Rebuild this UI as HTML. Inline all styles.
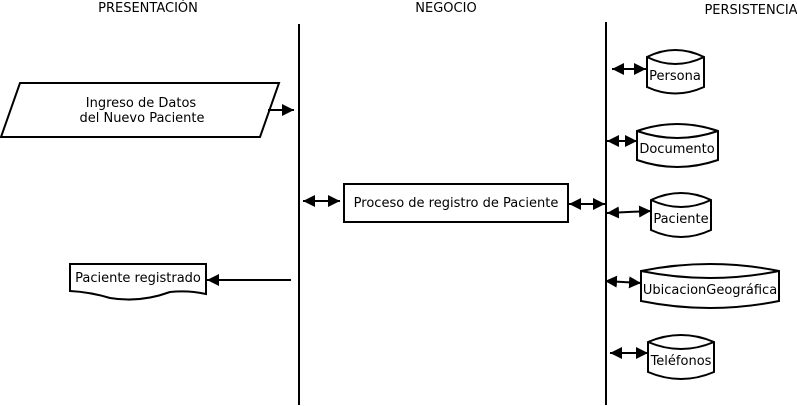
<!DOCTYPE html>
<html><head><meta charset="utf-8"><style>body{margin:0;background:#fff}svg{display:block}text{font-family:"DejaVu Sans","Liberation Sans",sans-serif;font-size:13px;fill:#000}</style></head><body>
<svg width="797" height="406" viewBox="0 0 797 406" xmlns="http://www.w3.org/2000/svg">
<defs>
<marker id="a" viewBox="0 0 10 10" refX="10" refY="5" markerWidth="6" markerHeight="6" orient="auto-start-reverse"><path d="M0,0L10,5L0,10z" fill="#000"/></marker>
</defs>
<g fill="none" stroke="#000" stroke-width="2">
<line x1="299" y1="24" x2="299" y2="405"/>
<line x1="606" y1="22" x2="606" y2="405"/>
<polygon points="20,83 279,83 260,137 1,137" fill="#fff"/>
<rect x="344" y="184" width="224" height="38" fill="#fff"/>
<path d="M70,264H206V294Q188,290 170,292Q140,303 110,298Q90,292 70,291Z" fill="#fff"/>
<path d="M647,57Q675,43 704,57V87Q675,100 647,87Z"/><path d="M647,57Q675,71 704,57"/>
<path d="M637,131Q677,117 718,131V160Q677,174 637,160Z"/><path d="M637,131Q677,145 718,131"/>
<path d="M651,200Q681,186 711,200V230Q681,244 651,230Z"/><path d="M651,200Q681,214 711,200"/>
<path d="M641,271Q710,257 779,271V301Q710,315 641,301Z"/><path d="M641,271Q710,285 779,271"/>
<path d="M648,342Q681,328 714,342V372Q681,386 648,372Z"/><path d="M648,342Q681,356 714,342"/>
</g>
<g stroke="#000" stroke-width="2" marker-end="url(#a)">
<line x1="268" y1="110" x2="294" y2="110"/>
<line x1="291" y1="280" x2="207" y2="280"/>
</g>
<g stroke="#000" stroke-width="2" marker-end="url(#a)" marker-start="url(#a)">
<line x1="303" y1="201" x2="340" y2="201"/>
<line x1="569" y1="204" x2="605" y2="204"/>
<line x1="612" y1="69" x2="646" y2="69"/>
<line x1="607" y1="141" x2="637" y2="141"/>
<line x1="607" y1="213" x2="651" y2="211"/>
<line x1="605" y1="281" x2="641" y2="283"/>
<line x1="610" y1="353" x2="648" y2="353"/>
</g>
<g text-anchor="middle">
<text x="148" y="12">PRESENTACIÓN</text>
<text x="446" y="12">NEGOCIO</text>
<text x="751" y="14">PERSISTENCIA</text>
<text x="141" y="107">Ingreso de Datos</text>
<text x="142" y="122">del Nuevo Paciente</text>
<text x="456" y="207">Proceso de registro de Paciente</text>
<text x="138" y="282">Paciente registrado</text>
<text x="675" y="80">Persona</text>
<text x="677" y="153">Documento</text>
<text x="681" y="223">Paciente</text>
<text x="710" y="294">UbicacionGeográfica</text>
<text x="681" y="365">Teléfonos</text>
</g>
</svg>
</body></html>
